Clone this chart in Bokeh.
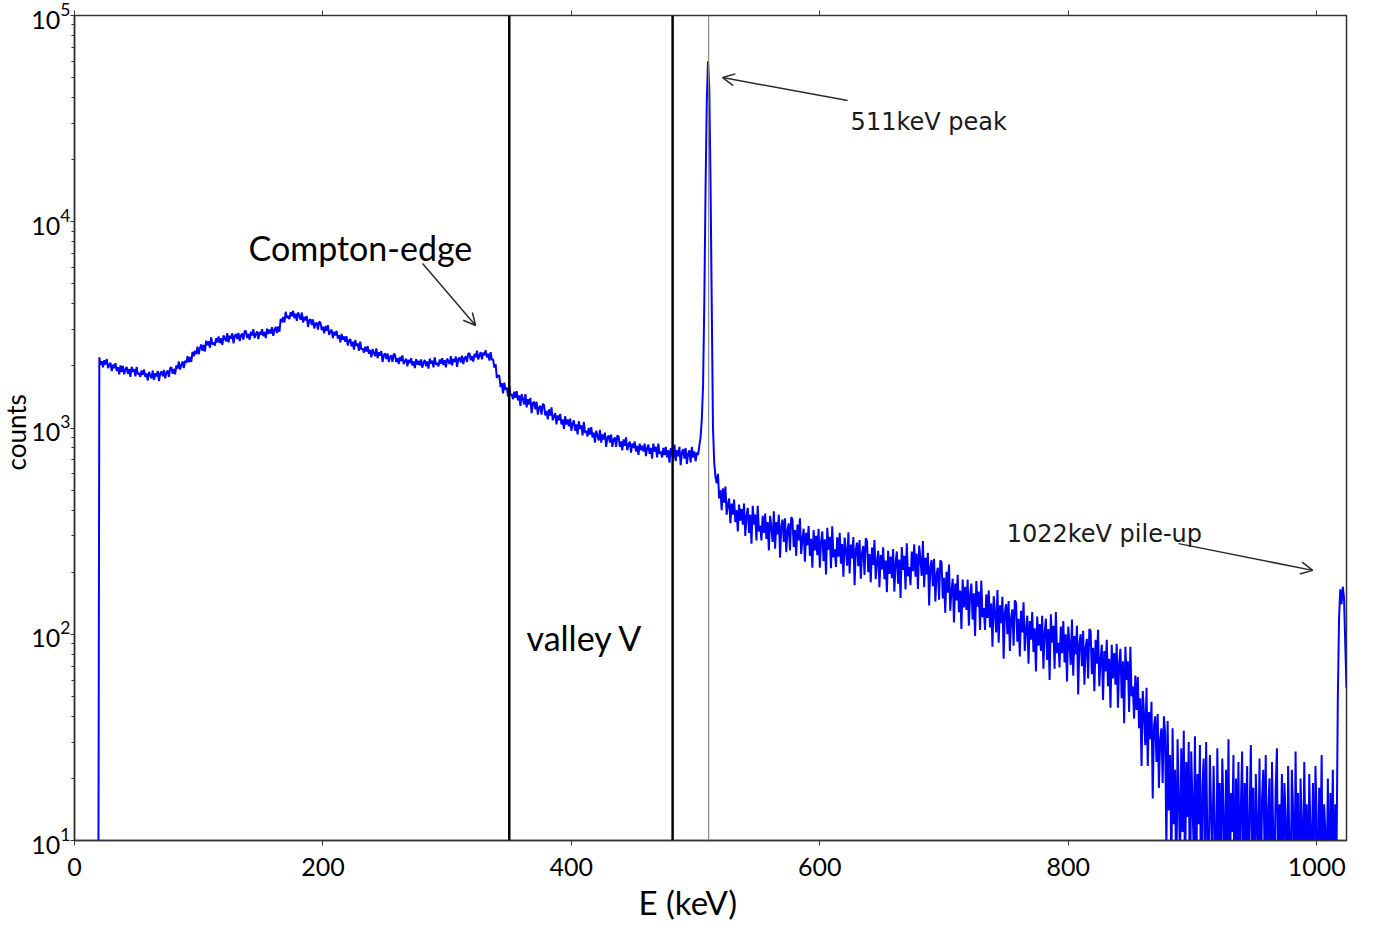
import math
from bokeh.plotting import figure
from bokeh.models import Span, Label, Arrow, OpenHead, LinearAxis, FixedTicker, Title
from bokeh.embed import file_html
from bokeh.resources import INLINE

# ---------------- data (1 keV bins) ----------------
# each row: (first bin in keV, counts of consecutive 1 keV bins)
spectrum_rows = [
    (18, [1, 1, 2200, 2030, 2110, 1970, 2130, 2030, 2160, 1950, 2020, 2070, 1890, 2030, 1950, 2060, 1890, 1970, 1820, 2010]),
    (38, [1870, 2000, 1820, 1920, 1980, 1830, 1930, 1770, 1980, 1870, 1930, 1780, 1980, 1820, 1850, 1770, 1900, 1810, 1920, 1770]),
    (58, [1840, 1700, 1870, 1800, 1740, 1900, 1710, 1840, 1780, 1890, 1690, 1840, 1880, 1780, 1910, 1740, 1850, 1900, 1770, 1950]),
    (78, [1970, 1830, 1930, 1820, 2010, 1940, 2100, 1920, 2020, 2100, 1950, 2120, 2070, 2230, 2080, 2210, 2090, 2340, 2230, 2370]),
    (98, [2280, 2480, 2280, 2440, 2540, 2370, 2530, 2350, 2650, 2520, 2630, 2450, 2750, 2540, 2600, 2510, 2720, 2600, 2780, 2580]),
    (118, [2720, 2530, 2810, 2720, 2630, 2880, 2600, 2800, 2710, 2880, 2570, 2790, 2860, 2700, 2890, 2640, 2810, 2870, 2680, 2950]),
    (138, [2950, 2730, 2860, 2680, 2930, 2810, 3010, 2730, 2850, 2940, 2700, 2920, 2830, 3010, 2790, 2920, 2730, 3030, 2860, 3000]),
    (158, [2870, 3080, 2800, 2990, 3090, 2890, 3110, 2930, 3380, 3260, 3450, 3250, 3660, 3410, 3500, 3370, 3640, 3480, 3700, 3410]),
    (178, [3580, 3310, 3640, 3490, 3350, 3630, 3250, 3460, 3320, 3490, 3090, 3330, 3370, 3160, 3360, 3040, 3210, 3240, 3000, 3280]),
    (198, [3240, 2980, 3100, 2880, 3120, 2960, 3150, 2830, 2930, 3000, 2730, 2930, 2810, 2960, 2710, 2820, 2600, 2860, 2680, 2780]),
    (218, [2620, 2790, 2510, 2650, 2700, 2490, 2620, 2400, 2670, 2500, 2570, 2370, 2620, 2400, 2430, 2320, 2480, 2350, 2490, 2290]),
    (238, [2390, 2200, 2410, 2320, 2230, 2430, 2180, 2330, 2240, 2360, 2090, 2260, 2300, 2160, 2300, 2090, 2210, 2250, 2090, 2290]),
    (258, [2270, 2090, 2180, 2040, 2210, 2110, 2250, 2040, 2110, 2170, 1990, 2140, 2060, 2180, 2010, 2100, 1950, 2160, 2030, 2120]),
    (278, [2010, 2150, 1960, 2080, 2140, 1990, 2100, 1940, 2170, 2050, 2120, 1970, 2200, 2030, 2070, 1990, 2150, 2050, 2180, 2020]),
    (298, [2130, 1970, 2170, 2100, 2040, 2230, 2010, 2160, 2090, 2220, 1980, 2160, 2200, 2080, 2240, 2040, 2180, 2230, 2090, 2300]),
    (318, [2300, 2130, 2230, 2100, 2290, 2200, 2370, 2150, 2250, 2330, 2150, 2320, 2250, 2380, 2200, 2290, 2120, 2330, 2140, 2150]),
    (338, [1960, 2040, 1750, 1800, 1790, 1580, 1650, 1470, 1660, 1530, 1570, 1420, 1610, 1440, 1460, 1380, 1500, 1400, 1510, 1360]),
    (358, [1440, 1280, 1460, 1380, 1300, 1460, 1260, 1380, 1300, 1400, 1180, 1320, 1340, 1230, 1340, 1160, 1260, 1280, 1160, 1310]),
    (378, [1290, 1150, 1210, 1100, 1230, 1150, 1260, 1090, 1140, 1180, 1040, 1150, 1090, 1170, 1040, 1100, 990, 1140, 1040, 1100]),
    (398, [1020, 1110, 970, 1050, 1090, 970, 1040, 930, 1080, 990, 1030, 920, 1070, 950, 970, 910, 1000, 930, 1010, 900]),
    (418, [950, 850, 970, 920, 870, 980, 850, 930, 880, 950, 810, 900, 920, 850, 930, 810, 880, 900, 810, 920]),
    (438, [910, 810, 860, 780, 880, 820, 900, 780, 830, 860, 760, 840, 800, 860, 770, 820, 740, 840, 780, 820]),
    (458, [770, 840, 730, 800, 830, 750, 800, 710, 840, 770, 810, 720, 840, 750, 770, 720, 800, 740, 810, 720]),
    (478, [780, 680, 800, 760, 710, 830, 690, 780, 730, 810, 660, 760, 790, 710, 800, 670, 750, 780, 680, 810]),
    (498, [720, 770, 690, 760, 740, 820, 900, 1100, 1600, 4000, 14000, 38000, 60000, 45000, 16000, 4000, 1000, 680, 580, 540]),
    (518, [600, 455, 500, 400, 510, 435, 520, 380, 425, 455, 345, 430, 380, 450, 350, 400, 315, 425, 355, 405]),
    (538, [340, 430, 300, 375, 410, 310, 380, 275, 420, 340, 380, 285, 420, 315, 336, 285, 375, 310, 385, 290]),
    (558, [350, 255, 375, 330, 280, 395, 260, 350, 305, 380, 235, 335, 360, 280, 365, 250, 320, 345, 255, 370]),
    (578, [360, 265, 320, 240, 340, 285, 365, 245, 291, 325, 225, 310, 270, 335, 240, 290, 210, 320, 255, 300]),
    (598, [242, 325, 210, 281, 315, 226, 289, 195, 328, 257, 297, 209, 334, 236, 258, 212, 295, 238, 310, 220]),
    (618, [274, 190, 294, 254, 215, 312, 197, 272, 233, 296, 173, 258, 278, 214, 286, 186, 247, 268, 194, 292]),
    (638, [283, 200, 245, 179, 263, 217, 286, 185, 224, 254, 169, 242, 206, 264, 185, 228, 160, 254, 196, 238]),
    (658, [187, 259, 161, 222, 252, 176, 230, 150, 265, 205, 240, 165, 276, 191, 212, 173, 252, 202, 273, 190]),
    (678, [246, 166, 269, 231, 192, 283, 169, 235, 195, 248, 138, 212, 229, 171, 232, 144, 195, 210, 147, 228]),
    (698, [224, 149, 188, 127, 201, 159, 218, 130, 162, 186, 114, 176, 146, 194, 128, 163, 106, 184, 135, 170]),
    (718, [131, 184, 110, 155, 176, 118, 158, 98, 181, 136, 161, 105, 182, 121, 134, 105, 156, 120, 163, 108]),
    (738, [141, 87, 153, 127, 102, 164, 91, 138, 113, 152, 76, 128, 140, 100, 145, 83, 120, 132, 88, 146]),
    (758, [142, 92, 119, 78, 130, 102, 143, 83, 106, 123, 72, 116, 94, 128, 82, 107, 66, 122, 88, 112]),
    (778, [83, 123, 68, 102, 119, 75, 106, 60, 125, 91, 110, 68, 128, 81, 91, 69, 109, 81, 116, 73]),
    (798, [100, 59, 109, 90, 71, 118, 63, 98, 80, 110, 51, 91, 100, 70, 104, 57, 86, 95, 61, 106]),
    (818, [104, 64, 86, 53, 94, 72, 105, 56, 75, 89, 48, 83, 66, 94, 56, 76, 44, 89, 61, 81]),
    (838, [57, 90, 44, 72, 85, 49, 74, 37, 87, 60, 74, 42, 87, 50, 56, 39, 63, 43, 62, 35]),
    (858, [49, 23, 53, 41, 29, 55, 23, 42, 31, 47, 16, 36, 40, 24, 41, 18, 31, 35, 19, 40]),
    (878, [33, 9, 38, 14, 26, 7, 35, 12, 22, 5, 31, 16, 8, 28, 11, 34, 6, 24, 13, 30]),
    (898, [4, 27, 15, 9, 32, 6, 21, 12, 29, 3, 18, 25, 7, 30, 10, 5, 26, 14, 8, 23]),
    (918, [12, 3, 28, 9, 19, 6, 25, 14, 4, 22, 8, 31, 5, 17, 11, 26, 3, 20, 9, 24]),
    (938, [6, 15, 27, 4, 19, 10, 23, 5, 13, 29, 7, 18, 3, 21, 12, 8, 25, 4, 16, 22]),
    (958, [9, 26, 5, 14, 20, 3, 24, 11, 7, 18, 28, 4, 15, 9, 21, 6, 19, 13, 3, 23]),
    (978, [10, 5, 22, 14, 4, 27, 8, 17, 3, 20, 12, 6, 24, 9, 15, 4, 21, 11, 7, 19]),
    (998, [5, 23, 13, 3, 18, 9, 26, 4, 15, 11, 6, 20, 3, 17, 8, 22, 4, 15, 9, 48]),
    (1018, [120, 165, 140, 170, 150, 90, 55]),
]

x_ticks = [0, 200, 400, 600, 800, 1000]

window_lines = [350, 481.5]     # valley window (keV)
peak_line = [510.5]             # 511 keV marker

big_texts = ["Compton-edge", "valley V"]
big_text_x = [140.1, 363.9]
big_text_y = [7500, 96.4]

small_texts = ["511keV peak", "1022keV pile-up"]
small_text_x = [624.8, 750.4]
small_text_y = [30300, 307.6]

arrow_x0 = [280.2, 622.4, 888.9]
arrow_y0 = [6280, 38700, 275]
arrow_x1 = [322.9, 521.7, 996.8]
arrow_y1 = [3140, 50000, 204]

X_LABEL = "E (keV)"
Y_LABEL = "counts"

energy, counts = [], []
for start, vals in spectrum_rows:
    for j, v in enumerate(vals):
        energy.append(start + j)
        counts.append(v)

# ---------------- figure ----------------
FONT = "Lato"
AX = "#333333"

p = figure(width=1372, height=932, x_range=(0, 1024), y_range=(10, 1e5),
           y_axis_type="log", output_backend="svg", toolbar_location=None,
           min_border_left=74, min_border_right=26, min_border_top=15,
           min_border_bottom=92)
p.background_fill_color = "white"
p.border_fill_color = "white"
p.xgrid.grid_line_color = None
p.ygrid.grid_line_color = None
p.outline_line_color = AX
p.outline_line_width = 1.5

p.line(energy, counts, line_color="#0000ff", line_width=2.0)

# axes
xa = p.xaxis[0]
xa.ticker = FixedTicker(ticks=x_ticks)
xa.axis_line_color = AX
xa.axis_line_width = 1.5
xa.major_tick_line_color = AX
xa.major_tick_out = 5
xa.major_tick_in = 0
xa.minor_tick_line_color = None
xa.major_label_text_font = FONT
xa.major_label_text_font_size = "25px"
xa.major_label_text_color = "black"
xa.major_label_standoff = 12

ya = p.yaxis[0]
ya.axis_line_color = AX
ya.axis_line_width = 1.5
ya.major_tick_line_color = AX
ya.minor_tick_line_color = AX
ya.major_tick_out = 4
ya.major_tick_in = 0
ya.minor_tick_out = 3
ya.minor_tick_in = 0
ya.major_label_text_font = FONT
ya.major_label_text_font_size = "25px"
ya.major_label_text_color = "black"
ya.major_label_standoff = 0

top = LinearAxis(ticker=FixedTicker(ticks=x_ticks), axis_line_color=None,
                 major_tick_line_color=AX, major_tick_out=5, major_tick_in=0,
                 minor_tick_line_color=None, major_label_text_font_size="1px",
                 major_label_text_color=None, major_label_standoff=0)
p.add_layout(top, "above")

xt = Title(text=X_LABEL, align="left", offset=564, standoff=2,
           text_font=FONT, text_font_size="33px", text_font_style="normal",
           text_color="black")
p.add_layout(xt, "below")

yt = Title(text=Y_LABEL, align="left", offset=370, standoff=-7,
           text_font=FONT, text_font_size="26px", text_font_style="normal",
           text_color="black")
p.add_layout(yt, "left")

# vertical marker lines
for v in window_lines:
    p.add_layout(Span(location=v, dimension="height", line_color="black", line_width=2.5))
for v in peak_line:
    p.add_layout(Span(location=v, dimension="height", line_color="#8a8a8a", line_width=1.2))

# annotations
for t, x, y in zip(big_texts, big_text_x, big_text_y):
    p.add_layout(Label(x=x, y=y, text=t, text_align="left", text_baseline="alphabetic",
                       text_font=FONT, text_font_size="34px", text_color="black"))
for t, x, y in zip(small_texts, small_text_x, small_text_y):
    p.add_layout(Label(x=x, y=y, text=t, text_align="left", text_baseline="alphabetic",
                       text_font="DejaVu Sans", text_font_size="24px", text_color="#1a1a1a"))
for x0, y0, x1, y1 in zip(arrow_x0, arrow_y0, arrow_x1, arrow_y1):
    p.add_layout(Arrow(x_start=x0, y_start=y0, x_end=x1, y_end=y1,
                       line_color="#2a2a2a", line_width=1.5,
                       end=OpenHead(size=12, line_color="#2a2a2a", line_width=1.5)))

open("out.html", "w").write(file_html(p, INLINE))
